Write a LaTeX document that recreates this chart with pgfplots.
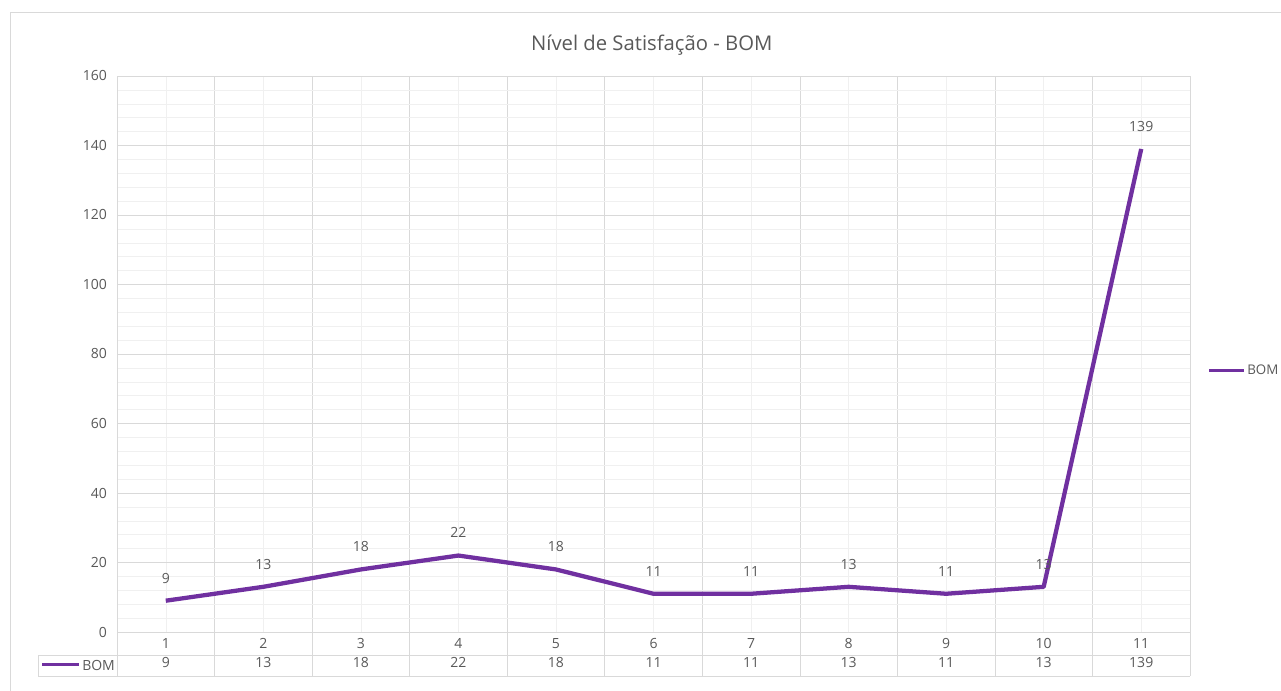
\documentclass[border=0pt]{standalone}
\usepackage{pgfplots}
\pgfplotsset{compat=1.18}
\usepackage{pgfplotstable}
\usepackage{fontspec}
\setmainfont{Open Sans}

\definecolor{bomline}{HTML}{7030A0}
\definecolor{txt}{HTML}{595959}
\definecolor{gmaj}{HTML}{D9D9D9}
\definecolor{gmin}{HTML}{F0F0F0}

% Nivel de satisfacao - BOM, one value per question
\pgfplotstableread{
x y
1 9
2 13
3 18
4 22
5 18
6 11
7 11
8 13
9 11
10 13
11 139
}\bomdata

\begin{document}
\begin{tikzpicture}
  \useasboundingbox (0,0) rectangle (960.75pt,518.25pt);
  % chart area frame (top and left only, as in the reference)
  \draw[gmaj] (7.5pt,0) -- (7.5pt,509.25pt) -- (960.75pt,509.25pt);
  \node[text=txt, font=\fontsize{15.2}{18}\selectfont] at (488.8pt,484.5pt)
    {Nível de Satisfação - BOM};

  \begin{axis}[
      at={(87.75pt,44.25pt)}, anchor=south west,
      scale only axis, width=804.75pt, height=417pt,
      xmin=0.5, xmax=11.5, ymin=0, ymax=160,
      xtick={1,...,11},
      xticklabels={{1\\9},{2\\13},{3\\18},{4\\22},{5\\18},{6\\11},
                   {7\\11},{8\\13},{9\\11},{10\\13},{11\\139}},
      xticklabel style={align=center, anchor=north, yshift=-1pt,
                        font=\fontsize{10.5}{14.25}\selectfont},
      minor xtick={0.5,1.5,...,11.5},
      ytick={0,20,...,160}, minor y tick num=4,
      yticklabel style={xshift=-4pt, font=\fontsize{10.5}{12}\selectfont},
      /pgf/number format/assume math mode=true,
      tick label style={text=txt},
      grid=both,
      major x grid style={gmin}, minor x grid style={gmaj},
      major y grid style={gmaj}, minor y grid style={gmin},
      axis line style={gmaj},
      major tick length=0pt, minor tick length=0pt,
      clip=false,
      legend style={at={(1,0.5)}, anchor=west, xshift=13pt, yshift=-12.75pt,
                    draw=none, fill=none, inner sep=0pt,
                    nodes={inner sep=1.5pt},
                    font=\fontsize{10}{12}\selectfont, text=txt},
      legend image code/.code={\draw[bomline, line width=2.25pt] (0pt,0pt) -- (26pt,0pt);},
      nodes near coords,
      every node near coord/.append style={anchor=center, yshift=17pt,
                    font=\fontsize{10.5}{12}\selectfont, text=txt},
    ]
    \addplot[bomline, line width=3.2pt, line join=round, mark=none]
      table[x=x, y=y] {\bomdata};
    \addlegendentry{BOM}
  \end{axis}

  % data table below the plot area
  \draw[gmaj] (87.75pt,27pt) -- (892.5pt,27pt);
  \draw[gmaj] (28.5pt,11.25pt) -- (892.5pt,11.25pt);
  \draw[gmaj] (28.5pt,27pt) -- (87.75pt,27pt);
  \draw[gmaj] (28.5pt,11.25pt) -- (28.5pt,27pt);
  \foreach \k in {0,...,11}
    \draw[gmaj] (87.75pt+\k*73.159pt,44.25pt) -- ++(0,-33pt);
  \draw[bomline, line width=2.25pt] (31.5pt,19.5pt) -- (59.25pt,19.5pt);
  \node[anchor=west, inner sep=0pt, text=txt, font=\fontsize{10.5}{12}\selectfont]
    at (61.5pt,19.5pt) {BOM};
\end{tikzpicture}
\end{document}
